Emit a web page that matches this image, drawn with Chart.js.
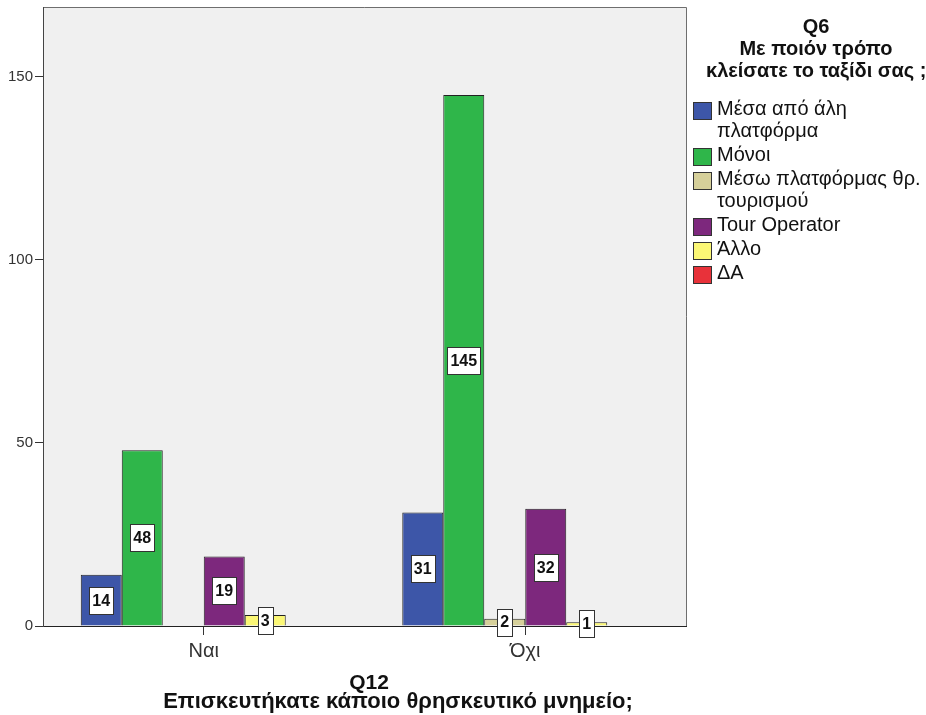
<!DOCTYPE html>
<html>
<head>
<meta charset="utf-8">
<script src="https://cdn.jsdelivr.net/npm/chart.js@4.4.1/dist/chart.umd.min.js"></script>
<style>
body { margin: 0; background: #fff; font-family: "Liberation Sans", Arial, sans-serif; color: #111; }
#wrap { position: relative; width: 926px; height: 715px; overflow: hidden; }
#chart { position: absolute; left: 0; top: 0; }
.ltitle { position: absolute; left: 706px; top: 15px; width: 220px; text-align: center;
          font-weight: bold; font-size: 20px; line-height: 22px; white-space: nowrap; }
#legend { position: absolute; left: 693px; top: 97px; }
.item { position: relative; padding-left: 24px; font-size: 20px; line-height: 22px;
        margin-bottom: 2px; white-space: nowrap; }
.sw { position: absolute; left: 0; top: 5px; width: 19px; height: 18px;
      box-sizing: border-box; border: 1px solid #333; }
.xt { position: absolute; font-weight: bold; font-size: 22px; line-height: 22px;
      white-space: nowrap; transform: translateX(-50%); }
</style>
</head>
<body>
<div id="wrap">
  <canvas id="chart" width="926" height="715"></canvas>
  <div class="ltitle">Q6<br>Με ποιόν τρόπο<br>κλείσατε το ταξίδι σας ;</div>
  <div id="legend"></div>
  <div class="xt" style="left:369px; top:671px; font-size:21px;">Q12</div>
  <div class="xt" style="left:398px; top:690px;">Επισκευτήκατε κάποιο θρησκευτικό μνημείο;</div>
</div>
<script>
// ---- data ----
const categories = ['Ναι', 'Όχι'];
const seriesNames = ['Μέσα από άλη\nπλατφόρμα', 'Μόνοι', 'Μέσω πλατφόρμας θρ.\nτουρισμού', 'Tour Operator', 'Άλλο', 'ΔΑ'];
const otherPlatform = [14, 31];
const alone = [48, 145];
const religiousPlatform = [null, 2];
const tourOperator = [19, 32];
const otherWay = [3, 1];
const noAnswer = [null, null];
const yTicks = [0, 50, 100, 150];
const yMax = 169;

const colors = ['#3d56a8', '#2fb64a', '#d6d09a', '#7d287d', '#fbf775', '#e8323a'];
const values = [otherPlatform, alone, religiousPlatform, tourOperator, otherWay, noAnswer];

// ---- legend (html) ----
const legendEl = document.getElementById('legend');
seriesNames.forEach((name, i) => {
    const d = document.createElement('div');
    d.className = 'item';
    d.innerHTML = '<span class="sw" style="background:' + colors[i] + '"></span>' + name.replace('\n', '<br>');
    legendEl.appendChild(d);
});

// background + frame
const plotFrame = {
    id: 'plotFrame',
    beforeDraw(chart) {
        const { ctx, chartArea: a } = chart;
        ctx.save();
        ctx.fillStyle = '#f0f0f0';
        ctx.fillRect(a.left, a.top, a.right - a.left, a.bottom - a.top);
        ctx.strokeStyle = '#6e6e6e';
        ctx.lineWidth = 1;
        ctx.beginPath();
        ctx.moveTo(a.left, a.top + 0.5);
        ctx.lineTo(a.right + 0.5, a.top + 0.5);
        ctx.lineTo(a.right + 0.5, a.bottom);
        ctx.stroke();
        ctx.restore();
    }
};

// boxed value labels in the middle of each bar
const boxLabels = {
    id: 'boxLabels',
    afterDatasetsDraw(chart) {
        const ctx = chart.ctx;
        ctx.save();
        ctx.font = 'bold 16px "Liberation Sans", Arial, sans-serif';
        ctx.textAlign = 'center';
        ctx.textBaseline = 'middle';
        chart.data.datasets.forEach((ds, i) => {
            chart.getDatasetMeta(i).data.forEach((bar, j) => {
                const v = ds.data[j];
                if (v == null) return;
                const t = String(v);
                const w = Math.round(ctx.measureText(t).width + 6);
                const h = 27;
                const cx = bar.x, cy = (bar.y + bar.base) / 2;
                const x0 = Math.round(cx - w / 2) + 0.5, y0 = Math.round(cy - h / 2) + 0.5;
                ctx.fillStyle = '#fff';
                ctx.fillRect(x0, y0, w, h);
                ctx.strokeStyle = '#333';
                ctx.lineWidth = 1;
                ctx.strokeRect(x0, y0, w, h);
                ctx.fillStyle = '#111';
                ctx.fillText(t, cx, cy + 1);
            });
        });
        ctx.restore();
    }
};

new Chart(document.getElementById('chart'), {
    type: 'bar',
    data: {
        labels: categories,
        datasets: seriesNames.map((n, i) => ({
            label: n.replace('\n', ' '),
            data: values[i],
            backgroundColor: colors[i],
            borderColor: '#222',
            borderWidth: 1,
            categoryPercentage: 0.765,
            barPercentage: 1
        }))
    },
    options: {
        responsive: false,
        animation: false,
        layout: { padding: { top: 7, right: 240, left: 0, bottom: 0 } },
        plugins: { legend: { display: false }, tooltip: { enabled: false } },
        scales: {
            x: {
                grid: { drawOnChartArea: false, offset: false, tickLength: 9, color: '#333' },
                border: { color: '#222', width: 1 },
                ticks: { color: '#333', padding: 4, font: { size: 20, family: '"Liberation Sans", Arial, sans-serif' } },
                afterFit(scale) { scale.height = 89; }
            },
            y: {
                min: 0,
                max: yMax,
                grid: { drawOnChartArea: false, tickLength: 8, color: '#333' },
                border: { color: '#444', width: 1 },
                ticks: { color: '#333', padding: 2, font: { size: 15, family: '"Liberation Sans", Arial, sans-serif' } },
                afterBuildTicks(scale) { scale.ticks = yTicks.map(v => ({ value: v })); },
                afterFit(scale) {
                    scale.width = 43;
                    scale.paddingTop = 0;
                    scale.paddingBottom = 0;
                }
            }
        }
    },
    plugins: [plotFrame, boxLabels]
});
</script>
</body>
</html>
